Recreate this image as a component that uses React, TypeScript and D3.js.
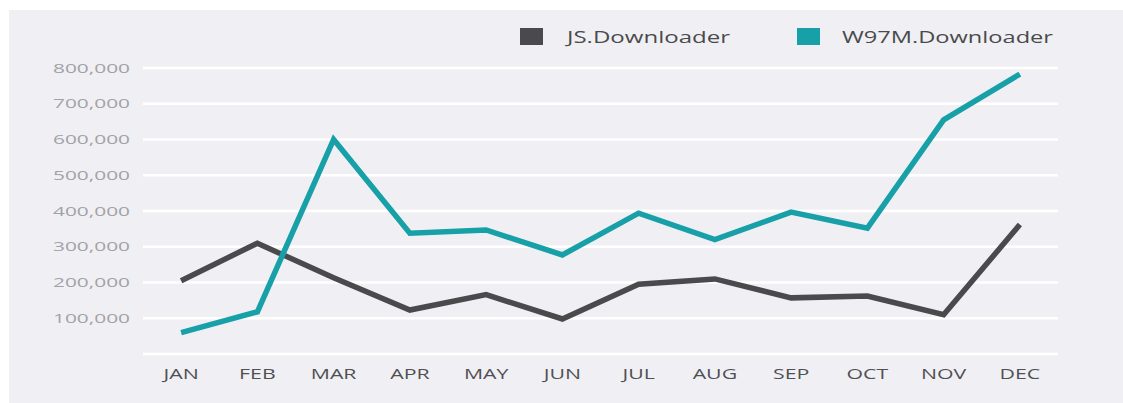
import React from "react";
import * as d3 from "d3";

const months = ["JAN", "FEB", "MAR", "APR", "MAY", "JUN", "JUL", "AUG", "SEP", "OCT", "NOV", "DEC"];
const jsDownloader = [205000, 310000, 213000, 123000, 166000, 98000, 195000, 210000, 157000, 162000, 110000, 362000];
const w97mDownloader = [60000, 118000, 600000, 338000, 347000, 277000, 394000, 320000, 397000, 352000, 655000, 783000];
const yTicks = [100000, 200000, 300000, 400000, 500000, 600000, 700000, 800000];
const seriesNames = ["JS.Downloader", "W97M.Downloader"];
const seriesColors = ["#4a4a4c", "#17a0a8"];

const W = 1123;
const H = 403;
const FONT = "'Open Sans', 'DejaVu Sans', sans-serif";

export default function App() {
  const x = d3.scaleBand<string>().domain(months).range([143, 1058]);
  const y = d3.scaleLinear().domain([0, 800000]).range([354, 68]);
  const fmt = d3.format(",");
  const line = d3
    .line<number>()
    .x((_, i) => (x(months[i]) as number) + x.bandwidth() / 2)
    .y((d) => y(d))
    .curve(d3.curveLinear);

  const series = [jsDownloader, w97mDownloader];
  const legendX = [520, 797];
  const legendTextX = [567, 842];
  const legendTextLen = [163, 211];

  return (
    <svg width={W} height={H} style={{ position: "absolute", left: 0, top: 0 }}>
      <rect x={0} y={0} width={W} height={H} fill="#ffffff" />
      <rect x={9} y={10} width={W - 9} height={H - 10} fill="#f0f0f4" />
      {[0, ...yTicks].map((t) => (
        <line key={t} x1={143} x2={1058} y1={y(t)} y2={y(t)} stroke="#ffffff" strokeWidth={2.5} />
      ))}
      {yTicks.map((t) => (
        <text
          key={"l" + t}
          x={130}
          y={y(t)}
          dy="0.35em"
          textAnchor="end"
          fontFamily={FONT}
          fontSize={13}
          fill="#a2a2a6"
          textLength={77}
          lengthAdjust="spacingAndGlyphs"
        >
          {fmt(t)}
        </text>
      ))}
      {months.map((m) => (
        <text
          key={m}
          transform={`translate(${(x(m) as number) + x.bandwidth() / 2},374) scale(1.42,1)`}
          dy="0.35em"
          textAnchor="middle"
          fontFamily={FONT}
          fontSize={15}
          fill="#505054"
        >
          {m}
        </text>
      ))}
      {series.map((s, i) => (
        <path
          key={seriesNames[i]}
          d={line(s) as string}
          fill="none"
          stroke={seriesColors[i]}
          strokeWidth={5.5}
          strokeLinejoin="miter"
          strokeLinecap="butt"
        />
      ))}
      {seriesNames.map((n, i) => (
        <g key={"lg" + n}>
          <rect x={legendX[i]} y={28} width={23} height={17} fill={seriesColors[i]} />
          <text
            x={legendTextX[i]}
            y={37}
            dy="0.35em"
            fontFamily={FONT}
            fontSize={16}
            fill="#4a4a4c"
            textLength={legendTextLen[i]}
            lengthAdjust="spacingAndGlyphs"
          >
            {n}
          </text>
        </g>
      ))}
    </svg>
  );
}
